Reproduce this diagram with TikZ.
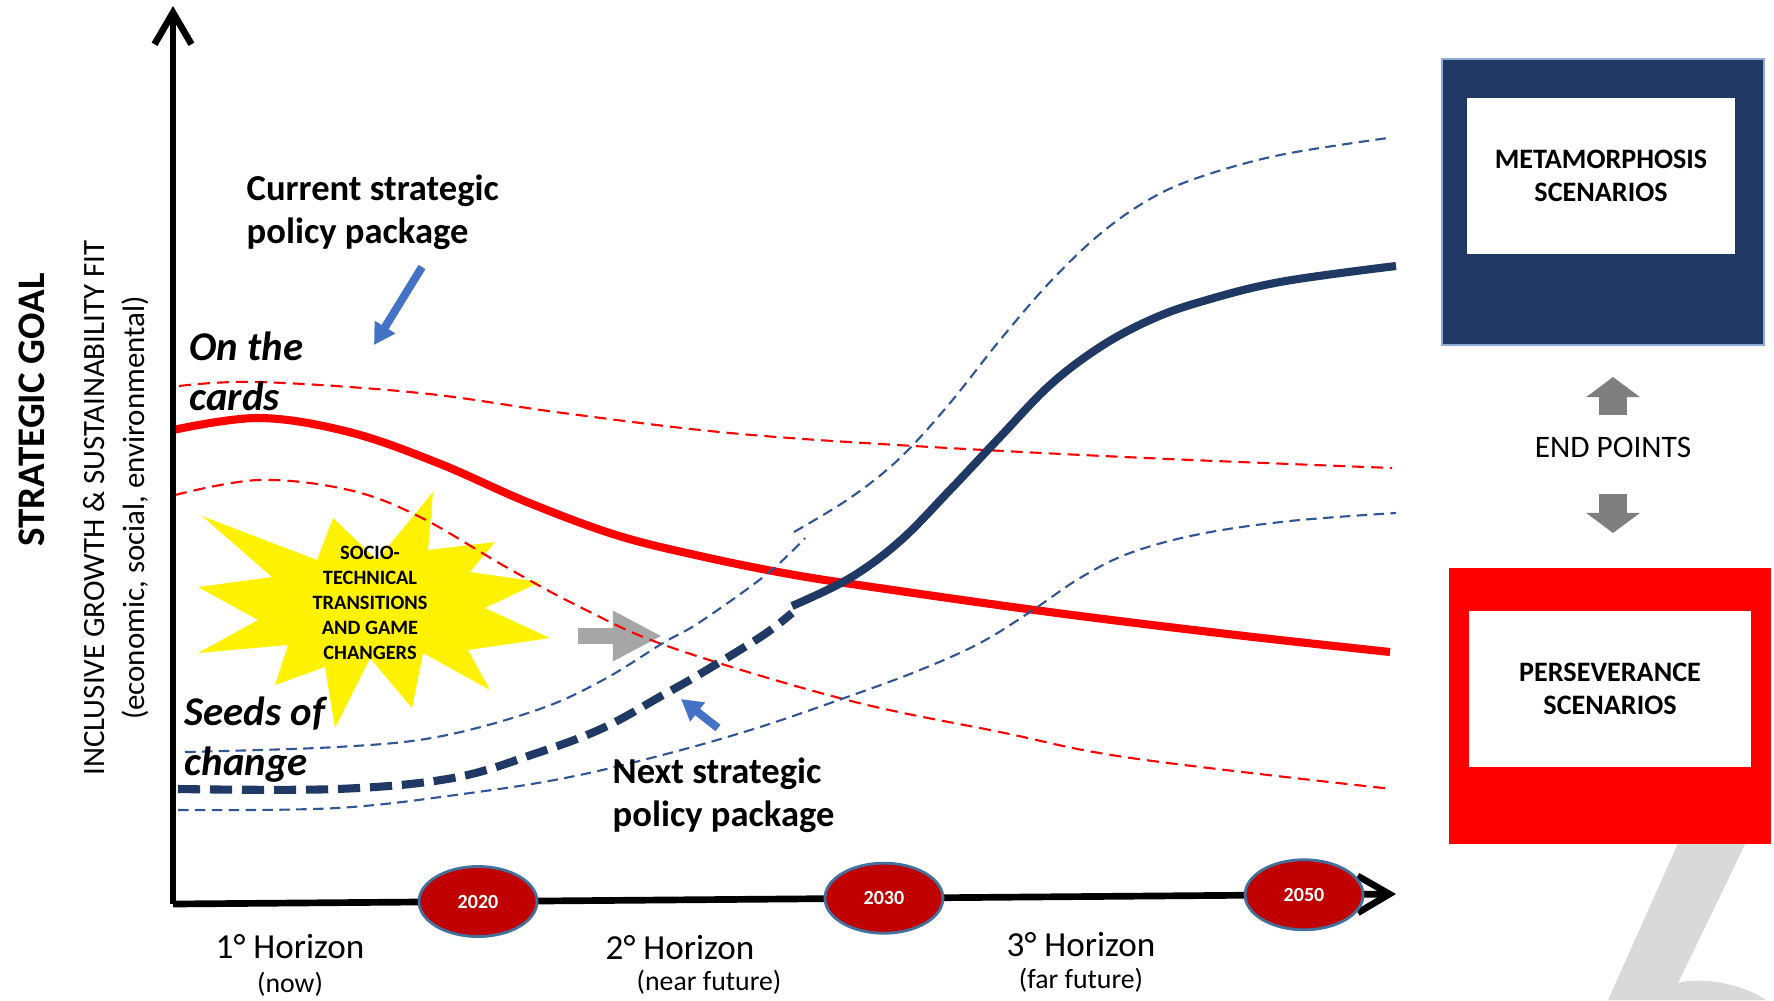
\documentclass[tikz,border=0pt]{standalone}
\usepackage{fontspec}
\setmainfont{Carlito}
\usepackage{xcolor}
\usetikzlibrary{shapes.geometric, arrows.meta, positioning, calc}

\definecolor{navy}{RGB}{32,56,100}
\definecolor{bandblue}{RGB}{47,85,151}
\definecolor{arrowblue}{RGB}{68,114,196}
\definecolor{yearred}{RGB}{192,0,0}
\definecolor{yearedge}{RGB}{65,113,156}
\definecolor{midgray}{RGB}{166,166,166}
\definecolor{endgray}{RGB}{127,127,127}
\definecolor{markgray}{RGB}{217,217,217}
\definecolor{boxedge}{RGB}{143,170,220}

\begin{document}
\begin{tikzpicture}[x=0.01cm, y=-0.01cm,
  year/.style={ellipse, draw=yearedge, line width=0.8pt, fill=yearred, minimum width=1.18cm, minimum height=0.7cm, inner sep=0pt, text=white, font=\bfseries\fontsize{5.7}{6.8}\selectfont},
  horizon/.style={inner sep=0pt, font=\fontsize{10}{12}\selectfont},
  when/.style={inner sep=0pt, font=\fontsize{7.9}{9.5}\selectfont},
  callout/.style={inner sep=0pt, anchor=west, align=left, font=\bfseries\fontsize{10.4}{12.3}\selectfont},
  phase/.style={inner sep=0pt, anchor=west, align=left, font=\bfseries\itshape\fontsize{11.6}{14.2}\selectfont},
  trend/.style={line width=2.3pt},
  redband/.style={red, line width=0.6pt, dash pattern=on 3.4pt off 2pt},
  blueband/.style={bandblue, line width=0.6pt, dash pattern=on 3pt off 1.8pt},
  pointer/.style={arrowblue, line width=2.3pt, -{Triangle[length=6pt, width=6.5pt]}},
  endarrow/.style={endgray, line width=7.7pt, -{Triangle[length=5.7pt, width=15pt]}},
  outerbox/.style={minimum width=3.21cm, minimum height=2.85cm},
  innerbox/.style={fill=white, minimum width=2.67cm, minimum height=1.56cm, align=center, font=\bfseries\fontsize{8}{9.4}\selectfont}]
\useasboundingbox (0,0) rectangle (1774,1000);

% Watermark stroke behind the red box
\fill[markgray] (1684,830) -- (1752,830) -- (1678,983) .. controls (1702,976) and (1745,985) .. (1766,1000) -- (1608,1000) -- cycle;

% Axis titles
\node[rotate=90, inner sep=0pt, font=\bfseries\fontsize{11.1}{13}\selectfont] (goal) at (32,410) {STRATEGIC GOAL};
\node[rotate=90, inner sep=0pt, align=center, font=\fontsize{8.8}{11.4}\selectfont] (fit) at (116,508) {INCLUSIVE GROWTH \& SUSTAINABILITY FIT\\(economic, social, environmental)};

% Socio-technical starburst
\fill[yellow] (202,516) -- (317,560) -- (333,518) -- (377,560) -- (433,492) -- (428,550) -- (495,542) -- (470,572) -- (540,582) -- (485,608) -- (550,638) -- (468,650) -- (490,690) -- (423,653) -- (412,708) -- (370,658) -- (335,728) -- (325,667) -- (275,685) -- (288,645) -- (198,653) -- (258,620) -- (198,587) -- (272,577) -- cycle;
\node[align=center, inner sep=0pt, font=\bfseries\fontsize{5.8}{7.1}\selectfont] (burst) at (370,603) {SOCIO-\\TECHNICAL\\TRANSITIONS\\AND GAME\\CHANGERS};

% Shift arrow
\coordinate (shifttail) at (578,636);
\coordinate (shifttip) at (662,636);
\draw[midgray, line width=4.3pt, -{Triangle[length=14pt, width=13.4pt]}] (shifttail) -- (shifttip);

% Red pathway and its band
\draw[redband] plot[smooth, tension=0.6] coordinates {(179,386) (259,382) (420,393) (563,413) (730,433) (914,446) (1146,458) (1392,468)};
\draw[redband] plot[smooth, tension=0.6] coordinates {(175,495) (259,480) (349,490) (420,517) (506,567) (580,607) (670,647) (847,700) (1000,732) (1131,758) (1392,789)};
\draw[red, trend] plot[smooth, tension=0.6] coordinates {(173,430) (259,418) (349,432) (438,463) (527,502) (616,535) (700,556) (789,574) (879,588) (1057,613) (1236,635) (1390,652)};

% Blue pathway and its band
\draw[blueband] plot[smooth, tension=0.6] coordinates {(185,752) (337,747) (437,737) (537,710) (603,680) (663,643) (700,622) (767,574) (805,538)};
\draw[blueband] plot[smooth, tension=0.6] coordinates {(794,532) (850,498) (900,458) (950,403) (1000,340) (1050,282) (1100,234) (1150,199) (1200,177) (1280,155) (1388,138)};
\draw[blueband] plot[smooth, tension=0.6] coordinates {(178,810) (337,808) (470,793) (570,777) (670,753) (760,727) (850,696) (920,670) (980,643) (1030,612) (1080,578) (1130,553) (1200,534) (1290,521) (1396,513)};
\draw[navy, trend, dash pattern=on 6.3pt off 2.8pt] plot[smooth, tension=0.6] coordinates {(178,789) (337,789) (453,778) (537,753) (603,728) (663,695) (700,674) (762,636) (792,613)};
\draw[navy, trend] plot[smooth, tension=0.6] coordinates {(792,606) (850,578) (900,541) (950,490) (1000,437) (1050,385) (1100,347) (1150,320) (1200,302) (1280,282) (1396,266)};

% Labels and pointers
\node[callout] (current) at (246,212) {Current strategic\\policy package};
\node[callout] (next) at (612,795) {Next strategic\\policy package};
\node[phase] (cards) at (189,371) {On the\\cards};
\node[phase] (seeds) at (184,740) {Seeds of\\change};
\coordinate (curtail) at (422,267);
\coordinate (curtip) at (374,345);
\coordinate (nexttail) at (718,728);
\coordinate (nexttip) at (681,699);
\draw[pointer] (curtail) -- (curtip);
\draw[pointer] (nexttail) -- (nexttip);

% Axes
\coordinate (origin) at (173,904);
\coordinate (ytop) at (173,6);
\coordinate (xend) at (1396,894);
\draw[line width=1.9pt, -{Straight Barb[length=9pt, width=10.5pt]}] (origin) -- (ytop);
\draw[line width=1.9pt, -{Straight Barb[length=9pt, width=10.5pt]}] (origin) -- (xend);

% Milestones
\node[year] (y2020) at ($(origin)!0.2494!(xend)$) {2020};
\node[year] (y2030) at ($(origin)!0.5813!(xend)$) {2030};
\node[year] (y2050) at ($(origin)!0.9248!(xend)$) {2050};

% Horizons
\node[horizon] (h1) at (290,947) {1° Horizon};
\node[when] (now) at (290,984) {(now)};
\node[horizon] (h2) at (680,948) {2° Horizon};
\node[when] (near) at (709,982) {(near future)};
\node[horizon] (h3) at (1081,945) {3° Horizon};
\node[when] (far) at (1081,980) {(far future)};

% End points
\node[outerbox, fill=navy, draw=boxedge, line width=0.6pt] (meta) at (1603,202) {};
\node[innerbox] (metatext) at (1601,176) {METAMORPHOSIS\\SCENARIOS};
\node[outerbox, fill=red, minimum height=2.76cm] (pers) at (1610,706) {};
\node[innerbox, minimum width=2.82cm] (perstext) at (1610,689) {PERSEVERANCE\\SCENARIOS};
\node[inner sep=0pt, font=\fontsize{8.9}{10.5}\selectfont] (endpts) at (1613,447) {END POINTS};
\coordinate (upfoot) at (1613,415);
\coordinate (uptip) at (1613,377);
\coordinate (downfoot) at (1613,494);
\coordinate (downtip) at (1613,533);
\draw[endarrow] (upfoot) -- (uptip);
\draw[endarrow] (downfoot) -- (downtip);
\end{tikzpicture}
\end{document}
